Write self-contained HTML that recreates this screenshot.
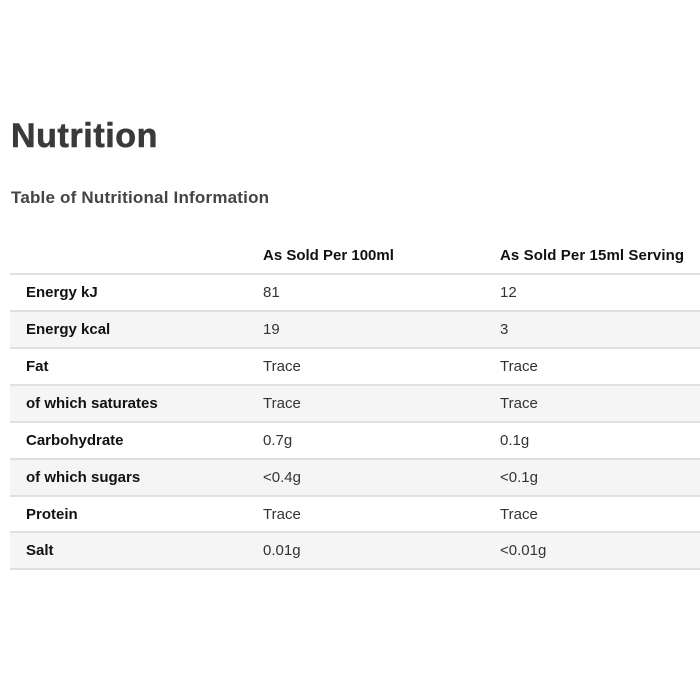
<!DOCTYPE html>
<html><head><style>
body{margin:0;width:700px;height:700px;background:#fff;font-family:"Liberation Sans",Arial,sans-serif;color:#222;overflow:hidden;position:relative}
h1{position:absolute;left:11px;top:117px;margin:0;font-size:34px;font-weight:bold;color:#3a3a3a;letter-spacing:0.6px;-webkit-text-stroke:0.6px #3a3a3a}
h2{position:absolute;left:11px;top:188px;margin:0;font-size:17px;font-weight:bold;color:#444;letter-spacing:0.2px}
.hdr{position:absolute;top:247px;font-size:15px;font-weight:bold;color:#111}
.row{position:absolute;left:10px;width:690px;height:37px;border-top:2px solid #e0e0e0;box-sizing:border-box;font-size:15px}
.row span{position:absolute;top:9px}
.row .a{left:16px;font-weight:bold;color:#111}
.row .b{left:253px;color:#333}
.row .c{left:490px;color:#333}
.g{background:#f5f5f5}
.end{position:absolute;left:10px;width:690px;top:568px;border-top:2px solid #e0e0e0}
</style></head><body>
<h1>Nutrition</h1>
<h2>Table of Nutritional Information</h2>
<div class="hdr" style="left:263px">As Sold Per 100ml</div>
<div class="hdr" style="left:500px;letter-spacing:0.1px">As Sold Per 15ml Serving</div>
<div class="row" style="top:273px"><span class="a">Energy kJ</span><span class="b">81</span><span class="c">12</span></div>
<div class="row g" style="top:310px"><span class="a">Energy kcal</span><span class="b">19</span><span class="c">3</span></div>
<div class="row" style="top:347px"><span class="a">Fat</span><span class="b">Trace</span><span class="c">Trace</span></div>
<div class="row g" style="top:384px"><span class="a">of which saturates</span><span class="b">Trace</span><span class="c">Trace</span></div>
<div class="row" style="top:421px"><span class="a">Carbohydrate</span><span class="b">0.7g</span><span class="c">0.1g</span></div>
<div class="row g" style="top:458px"><span class="a">of which sugars</span><span class="b">&lt;0.4g</span><span class="c">&lt;0.1g</span></div>
<div class="row" style="top:495px"><span class="a">Protein</span><span class="b">Trace</span><span class="c">Trace</span></div>
<div class="row g" style="top:531px"><span class="a">Salt</span><span class="b">0.01g</span><span class="c">&lt;0.01g</span></div>
<div class="end"></div>
</body></html>
